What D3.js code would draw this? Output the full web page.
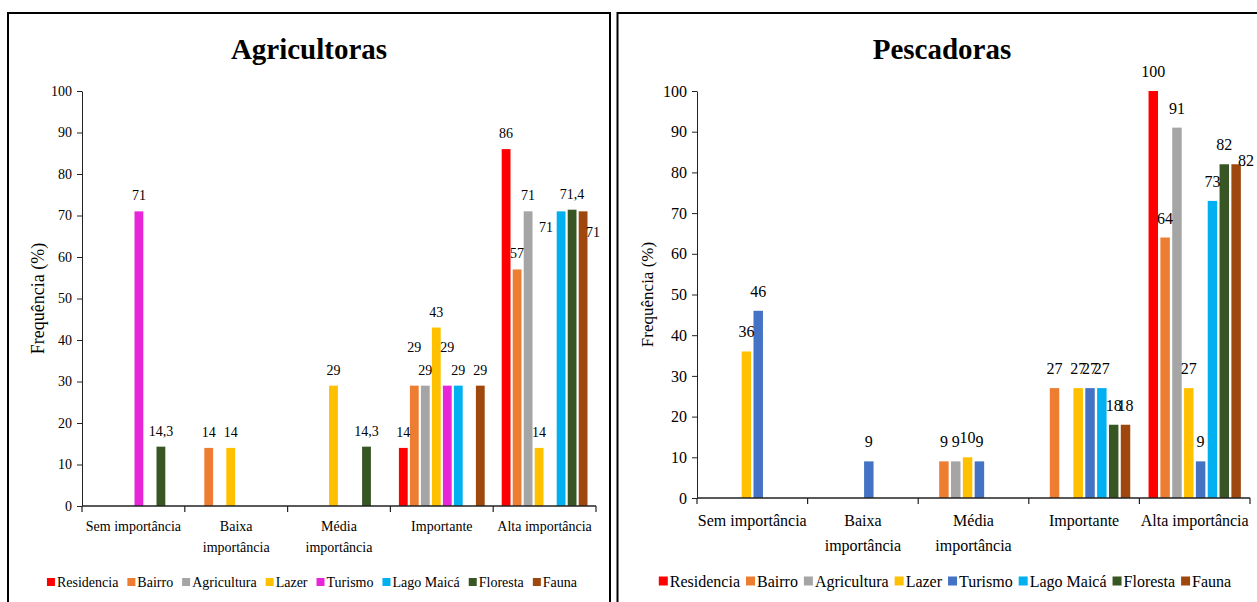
<!DOCTYPE html>
<html>
<head>
<meta charset="utf-8">
<script src="https://cdn.jsdelivr.net/npm/d3@7"></script>
<style>
  html, body { margin: 0; padding: 0; background: #fff; }
  svg text { font-family: "Liberation Serif", "Times New Roman", serif; fill: #000; }
</style>
</head>
<body>
<svg id="chart" width="1257" height="602"></svg>
<script>
// ---------- DATA ----------
const categories = ["Sem importância", "Baixa importância", "Média importância", "Importante", "Alta importância"];
const seriesNames = ["Residencia", "Bairro", "Agricultura", "Lazer", "Turismo", "Lago Maicá", "Floresta", "Fauna"];
const yTicks = [0, 10, 20, 30, 40, 50, 60, 70, 80, 90, 100];

// Agricultoras
const agriResidencia  = [0, 0, 0, 14, 86];
const agriBairro      = [0, 14, 0, 29, 57];
const agriAgricultura = [0, 0, 0, 29, 71];
const agriLazer       = [0, 14, 29, 43, 14];
const agriTurismo     = [71, 0, 0, 29, 0];
const agriLagoMaica   = [0, 0, 0, 29, 71];
const agriFloresta    = [14.3, 0, 14.3, 0, 71.4];
const agriFauna       = [0, 0, 0, 29, 71];

// Pescadoras
const pescResidencia  = [0, 0, 0, 0, 100];
const pescBairro      = [0, 0, 9, 27, 64];
const pescAgricultura = [0, 0, 9, 0, 91];
const pescLazer       = [36, 0, 10, 27, 27];
const pescTurismo     = [46, 9, 9, 27, 9];
const pescLagoMaica   = [0, 0, 0, 27, 73];
const pescFloresta    = [0, 0, 0, 18, 82];
const pescFauna       = [0, 0, 0, 18, 82];

const agriColors = ["#FF0000", "#ED7D31", "#A5A5A5", "#FFC000", "#E925D8", "#00B0F0", "#375623", "#9E480E"];
const pescColors = ["#FF0000", "#ED7D31", "#A5A5A5", "#FFC000", "#4472C4", "#00B0F0", "#375623", "#9E480E"];

// manual data-label nudges (as in the original)
const agriNudges = {
  "Bairro|Importante": [0, -23],
  "Turismo|Importante": [0, -23],
  "Lago Maicá|Alta importância": [-15, 32],
  "Fauna|Alta importância": [10, 37]
};
const pescNudges = {
  "Fauna|Alta importância": [10, 16]
};

const agriSeries = [agriResidencia, agriBairro, agriAgricultura, agriLazer, agriTurismo, agriLagoMaica, agriFloresta, agriFauna];
const pescSeries = [pescResidencia, pescBairro, pescAgricultura, pescLazer, pescTurismo, pescLagoMaica, pescFloresta, pescFauna];

const fmt = v => String(v).replace(".", ",");

const svg = d3.select("#chart");

// panel frames
svg.append("rect").attr("x", 8).attr("y", 13).attr("width", 602).attr("height", 620)
  .attr("fill", "none").attr("stroke", "#000").attr("stroke-width", 2);
svg.append("rect").attr("x", 617.5).attr("y", 13).attr("width", 680).attr("height", 620)
  .attr("fill", "none").attr("stroke", "#000").attr("stroke-width", 2);

function drawChart(cfg) {
  const g = svg.append("g");
  const y = d3.scaleLinear().domain([0, 100]).range([cfg.y0, cfg.y100]);
  const x0 = d3.scaleBand().domain(categories).range([cfg.xL, cfg.xR]).padding(0);
  const pad = x0.bandwidth() * 0.072;
  const x1 = d3.scaleBand().domain(seriesNames).range([pad, x0.bandwidth() - pad])
    .paddingInner(0.2).paddingOuter(0.1);

  // title
  g.append("text").attr("x", cfg.titleX).attr("y", cfg.titleY)
    .attr("text-anchor", "middle").attr("font-size", cfg.titleSize).attr("font-weight", "bold")
    .text(cfg.title);

  // y axis
  const yAxis = d3.axisLeft(y).tickValues(yTicks).tickSize(5).tickSizeOuter(0).tickPadding(5);
  const ya = g.append("g").attr("transform", `translate(${cfg.xL},0)`).call(yAxis);
  ya.attr("font-family", null);
  ya.selectAll("text").attr("font-size", cfg.tickSize);
  ya.selectAll("line, path").attr("stroke", "#222");

  // y label
  g.append("text")
    .attr("transform", `translate(${cfg.yLabelX},${(cfg.y0 + cfg.y100) / 2}) rotate(-90)`)
    .attr("text-anchor", "middle").attr("font-size", cfg.yLabelSize)
    .text("Frequência (%)");

  // bars
  const flat = [];
  cfg.series.forEach((vals, si) => {
    vals.forEach((v, ci) => {
      if (v > 0) flat.push({ s: seriesNames[si], c: categories[ci], v: v, color: cfg.colors[si] });
    });
  });

  g.append("g").selectAll("rect").data(flat).join("rect")
    .attr("x", d => x0(d.c) + x1(d.s))
    .attr("width", x1.bandwidth())
    .attr("y", d => y(d.v))
    .attr("height", d => y(0) - y(d.v))
    .attr("fill", d => d.color);

  g.append("g").selectAll("text").data(flat).join("text")
    .attr("x", d => x0(d.c) + x1(d.s) + x1.bandwidth() / 2 + ((cfg.nudges[d.s + "|" + d.c] || [0, 0])[0]))
    .attr("y", d => y(d.v) - cfg.labelOffset + ((cfg.nudges[d.s + "|" + d.c] || [0, 0])[1]))
    .attr("text-anchor", "middle").attr("font-size", cfg.labelSize)
    .text(d => fmt(d.v));

  // x axis line + boundary ticks
  g.append("line").attr("x1", cfg.xL).attr("x2", cfg.xR).attr("y1", cfg.y0).attr("y2", cfg.y0)
    .attr("stroke", "#222").attr("stroke-width", 1.5);
  const bounds = categories.map(c => x0(c)).concat([cfg.xR]);
  g.append("g").selectAll("line").data(bounds).join("line")
    .attr("x1", d => d).attr("x2", d => d).attr("y1", cfg.y0).attr("y2", cfg.y0 + 6)
    .attr("stroke", "#222").attr("stroke-width", 1.2);

  // category labels (wrapped to band width)
  categories.forEach(c => {
    const t = g.append("text").attr("x", x0(c) + x0.bandwidth() / 2).attr("y", cfg.catY)
      .attr("text-anchor", "middle").attr("font-size", cfg.catSize).text(c);
    const w = t.node().getComputedTextLength();
    if (w > x0.bandwidth() + cfg.wrapSlack) {
      const words = c.split(" ");
      t.text(null);
      words.forEach((wd, i) => {
        t.append("tspan").attr("x", x0(c) + x0.bandwidth() / 2)
          .attr("dy", i === 0 ? 0 : cfg.catLine).text(wd);
      });
    }
  });

  // legend
  const lg = g.append("g");
  let cx = 0;
  seriesNames.forEach((s, i) => {
    const item = lg.append("g").attr("transform", `translate(${cx},0)`);
    item.append("rect").attr("x", 0).attr("y", -cfg.sq / 2).attr("width", cfg.sq).attr("height", cfg.sq)
      .attr("fill", cfg.colors[i]);
    const t = item.append("text").attr("x", cfg.sq + 2).attr("y", 0).attr("dy", "0.35em")
      .attr("font-size", cfg.legendSize).text(s);
    cx += cfg.sq + 2 + t.node().getComputedTextLength() + cfg.legendGap;
  });
  const total = cx - cfg.legendGap;
  lg.attr("transform", `translate(${cfg.legendCX - total / 2},${cfg.legendY})`);
}

drawChart({
  title: "Agricultoras", titleX: 309, titleY: 59, titleSize: 29,
  xL: 82, xR: 596, y0: 506, y100: 91,
  series: agriSeries, colors: agriColors, nudges: agriNudges,
  tickSize: 14, yLabelX: 44, yLabelSize: 18,
  labelSize: 14, labelOffset: 11,
  catY: 531, catLine: 21, catSize: 14, wrapSlack: -4,
  legendCX: 312, legendY: 582, legendSize: 14, sq: 8, legendGap: 9
});

drawChart({
  title: "Pescadoras", titleX: 942, titleY: 59, titleSize: 29,
  xL: 697, xR: 1250, y0: 498, y100: 91,
  series: pescSeries, colors: pescColors, nudges: pescNudges,
  tickSize: 16, yLabelX: 653, yLabelSize: 17,
  labelSize: 16, labelOffset: 14,
  catY: 526, catLine: 25, catSize: 16, wrapSlack: 3,
  legendCX: 945, legendY: 581, legendSize: 16, sq: 9, legendGap: 6
});
</script>
</body>
</html>
